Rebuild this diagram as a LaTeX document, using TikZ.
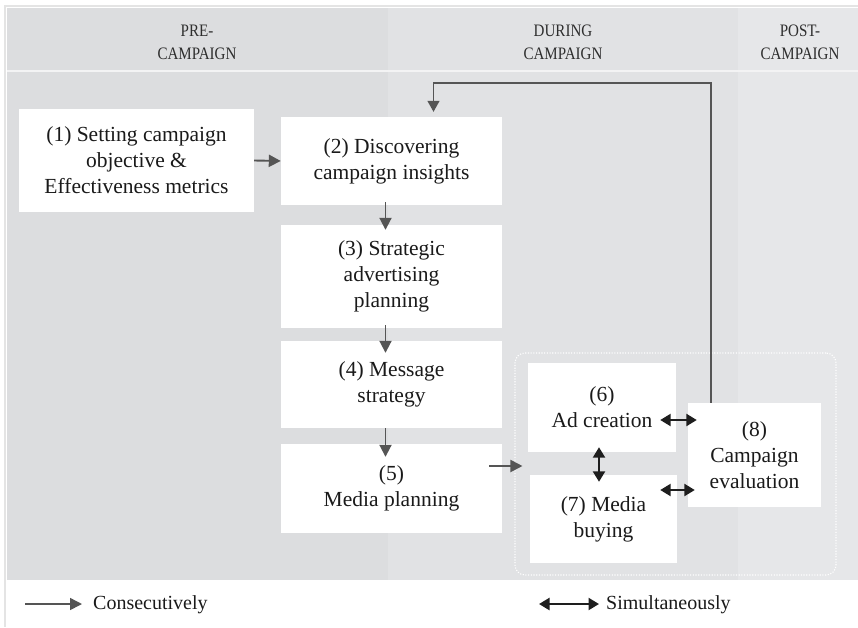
\documentclass[tikz,border=0pt]{standalone}
\usepackage{fontspec}
\setmainfont{Liberation Serif}
\usetikzlibrary{arrows.meta,calc}
\definecolor{preg}{HTML}{DCDDDF}
\definecolor{durg}{HTML}{E1E2E4}
\definecolor{postg}{HTML}{E6E7E9}
\definecolor{arrg}{HTML}{555555}
\definecolor{simc}{HTML}{1E1E1E}
\definecolor{txtc}{HTML}{1A1A1A}
\definecolor{hdrc}{HTML}{2E2E2E}
\definecolor{sepc}{HTML}{F3F3F4}
\definecolor{edgec}{HTML}{E4E4E4}
\newcommand{\hx}[1]{\scalebox{0.86}[1]{#1}}
\begin{document}
\begin{tikzpicture}[x=1pt,y=-1pt,
  box/.style={fill=white, draw=none, align=center, text=txtc, inner sep=0pt,
    font=\fontsize{21.5}{26}\selectfont},
  hdr/.style={align=center, text=hdrc, inner sep=0pt, font=\fontsize{17.5}{23}\selectfont},
  legtext/.style={anchor=west, text=txtc, inner sep=0pt, font=\fontsize{20}{24}\selectfont},
  grp/.style={draw=white, line width=1.1pt, dash pattern=on 1.1pt off 1.6pt, rounded corners=10pt, inner sep=0pt},
  cons/.style={draw=arrg, line width=1.9pt, -{Triangle[length=12pt,width=12pt]}},
  fb/.style={draw=arrg, line width=1.3pt, -{Triangle[length=11pt,width=12pt]}},
  sim/.style={draw=simc, line width=2.3pt, {Triangle[length=10.5pt,width=12pt]}-{Triangle[length=10.5pt,width=12pt]}}
]
\useasboundingbox (0,0) rectangle (858,627);
% backgrounds
\fill[white] (0,0) rectangle (858,627);
\fill[preg] (7,8) rectangle (388,580);
\fill[durg] (388,8) rectangle (738,580);
\fill[postg] (738,8) rectangle (858,580);
\fill[sepc] (7,69.5) rectangle (858,71.5);
\draw[edgec, line width=1.5pt] (5,627) -- (5,6) -- (858,6);

% headers
\node[hdr] (hpre) at (197,42) {\hx{PRE-}\\\hx{CAMPAIGN}};
\node[hdr] (hdur) at (563,42) {\hx{DURING}\\\hx{CAMPAIGN}};
\node[hdr] (hpost) at (800,42) {\hx{POST-}\\\hx{CAMPAIGN}};

% group
\node[grp, minimum width=321, minimum height=222] (grp) at (675.5,464) {};

% boxes
\node[box, minimum width=235, minimum height=103] (b1) at (136.5,160.5) {(1) Setting campaign\\objective \&\\Effectiveness metrics};
\node[box, minimum width=221, minimum height=88] (b2) at (391.5,161) {(2) Discovering\\campaign insights};
\node[box, minimum width=221, minimum height=103] (b3) at (391.5,276.5) {(3) Strategic\\advertising\\planning};
\node[box, minimum width=221, minimum height=87] (b4) at (391.5,384.5) {(4) Message\\strategy};
\node[box, minimum width=221, minimum height=89] (b5) at (391.5,488.5) {(5)\\Media planning};
\node[box, minimum width=148, minimum height=89] (b6) at (602,407.5) {(6)\\Ad creation};
\node[box, minimum width=147, minimum height=88] (b7) at (603.5,519) {(7) Media\\buying};
\node[box, minimum width=133, minimum height=104] (b8) at (754.5,455) {(8)\\Campaign\\evaluation};

% consecutive arrows
\draw[cons] (b1.east) -- (b2.west);
\draw[cons] ($(b2.south)+(-6,-3)$) -- ($(b3.north)+(-6,5)$);
\draw[cons] ($(b3.south)+(-6,-3)$) -- ($(b4.north)+(-6,12)$);
\draw[cons] ($(b4.south)+(-6,0)$) -- ($(b5.north)+(-6,13)$);
\coordinate (a5) at ($(b5.east)+(-13,-22.5)$);
\draw[cons] (a5) -- ($(a5 -| grp.west)+(8,0)$);

% feedback
\coordinate (f1) at ($(b8.north)+(-43.5,0)$);
\coordinate (f2) at ($(b2.north)+(42,-5)$);
\coordinate (ftop) at (0,83);
\draw[fb] (f1) -- (f1 |- ftop) -| (f2);

% simultaneous arrows
\coordinate (s1) at ($(b6.east)+(-16,12.5)$);
\draw[sim] (s1) -- ($(s1 -| b8.west)+(9,0)$);
\coordinate (s2) at ($(b7.east)+(-17,-29)$);
\draw[sim] (s2) -- ($(s2 -| b8.west)+(7,0)$);
\draw[sim] ($(b6.south)+(-3,-5)$) -- ($(b7.north)+(-4.5,7)$);

% legend
\node[legtext] (lc) at (93,605) {Consecutively};
\coordinate (lca) at (25,604);
\draw[cons, line width=1.5pt] (lca) -- ($(lca -| lc.west)+(-11,0)$);
\node[legtext] (ls) at (606,605) {Simultaneously};
\coordinate (lsa) at (539,604);
\draw[sim] (lsa) -- ($(lsa -| ls.west)+(-7,0)$);
\end{tikzpicture}
\end{document}
